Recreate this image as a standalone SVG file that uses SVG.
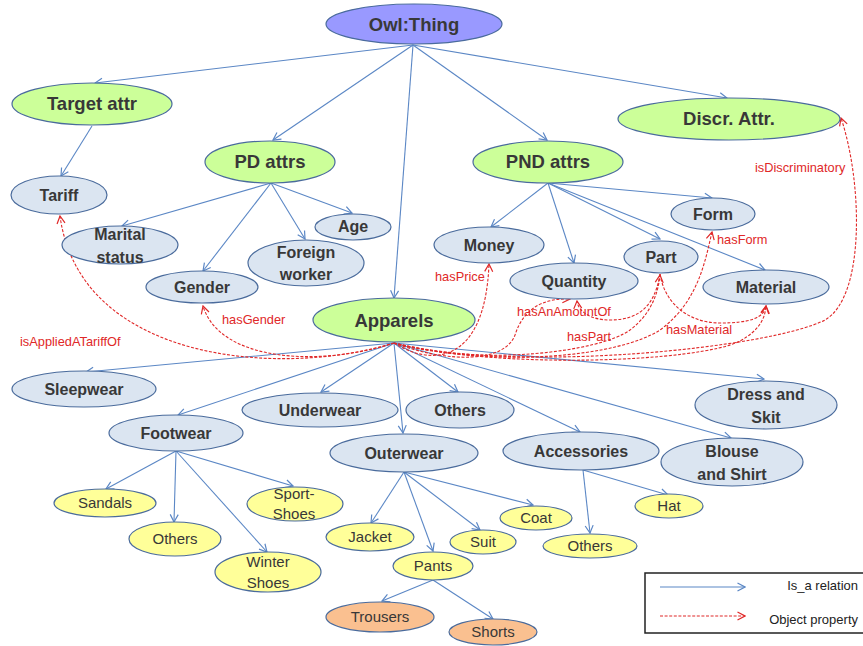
<svg xmlns="http://www.w3.org/2000/svg" width="863" height="646" viewBox="0 0 863 646">
<style>
  .isa { fill: none; stroke: #5b87c5; stroke-width: 1.1; marker-end: url(#ab); }
  .op { fill: none; stroke: #e02828; stroke-width: 1.1; stroke-dasharray: 3 1.6; marker-end: url(#ar); }
  .n ellipse { stroke: #4a6b9c; stroke-width: 1.2; }
  .root ellipse { fill: #9999ff; }
  .grn ellipse { fill: #ccff99; }
  .blu ellipse { fill: #dbe5f1; }
  .yel ellipse { fill: #ffff99; }
  .org ellipse { fill: #fac090; }
  .n text { font-family: "Liberation Sans", Arial, sans-serif; fill: #383838; text-anchor: middle; }
  .root text, .grn text { font-size: 18.5px; font-weight: bold; }
  .blu text { font-size: 16px; font-weight: bold; }
  .yel text, .org text { font-size: 15px; }
  .lbl { font-family: "Liberation Sans", Arial, sans-serif; font-size: 12.8px; fill: #e02828; }
  .leg { font-family: "Liberation Sans", Arial, sans-serif; font-size: 13px; fill: #222; text-anchor: end; }
</style>
<defs>
  <marker id="ab" viewBox="0 0 10 10" refX="9" refY="5" markerWidth="10" markerHeight="10" markerUnits="userSpaceOnUse" orient="auto">
    <path d="M1.5,1 L9,5 L1.5,9" fill="none" stroke="#5b87c5" stroke-width="1.2"/>
  </marker>
  <marker id="ar" viewBox="0 0 10 10" refX="9" refY="5" markerWidth="10" markerHeight="10" markerUnits="userSpaceOnUse" orient="auto">
    <path d="M1.5,1 L9,5 L1.5,9" fill="none" stroke="#e02828" stroke-width="1.2"/>
  </marker>
</defs>

<g id="connectors">
  <g id="isa-edges">
    <line class="isa" x1="413" y1="45" x2="95" y2="83"/>
    <line class="isa" x1="413" y1="45" x2="273" y2="140"/>
    <line class="isa" x1="413" y1="45" x2="394" y2="298"/>
    <line class="isa" x1="413" y1="45" x2="547" y2="140"/>
    <line class="isa" x1="413" y1="45" x2="727" y2="98"/>
    <line class="isa" x1="92" y1="126" x2="61" y2="176"/>
    <line class="isa" x1="271" y1="183" x2="122" y2="226"/>
    <line class="isa" x1="271" y1="183" x2="203" y2="271"/>
    <line class="isa" x1="271" y1="183" x2="305" y2="239"/>
    <line class="isa" x1="271" y1="183" x2="352" y2="213"/>
    <line class="isa" x1="548" y1="183" x2="491" y2="227"/>
    <line class="isa" x1="548" y1="183" x2="574" y2="263"/>
    <line class="isa" x1="548" y1="183" x2="660" y2="239"/>
    <line class="isa" x1="548" y1="183" x2="765" y2="270"/>
    <line class="isa" x1="548" y1="183" x2="712" y2="198"/>
    <line class="isa" x1="394" y1="343" x2="86" y2="372"/>
    <line class="isa" x1="394" y1="343" x2="178" y2="415"/>
    <line class="isa" x1="394" y1="343" x2="321" y2="392"/>
    <line class="isa" x1="394" y1="343" x2="403" y2="433"/>
    <line class="isa" x1="394" y1="343" x2="458" y2="392"/>
    <line class="isa" x1="394" y1="343" x2="580" y2="432"/>
    <line class="isa" x1="394" y1="343" x2="731" y2="438"/>
    <line class="isa" x1="394" y1="343" x2="764" y2="379"/>
    <line class="isa" x1="176" y1="451" x2="106" y2="489"/>
    <line class="isa" x1="176" y1="451" x2="174" y2="522"/>
    <line class="isa" x1="176" y1="451" x2="267" y2="552"/>
    <line class="isa" x1="176" y1="451" x2="293" y2="486"/>
    <line class="isa" x1="404" y1="472" x2="371" y2="523"/>
    <line class="isa" x1="404" y1="472" x2="433" y2="551"/>
    <line class="isa" x1="404" y1="472" x2="480" y2="530"/>
    <line class="isa" x1="404" y1="472" x2="533" y2="505"/>
    <line class="isa" x1="583" y1="470" x2="668" y2="495"/>
    <line class="isa" x1="583" y1="470" x2="590" y2="533"/>
    <line class="isa" x1="433" y1="580" x2="382" y2="601"/>
    <line class="isa" x1="433" y1="580" x2="493" y2="619"/>
  </g>
  <g id="property-edges">
    <path class="op" d="M394,343 C280,378 80,362 60,216"/>
    <path class="op" d="M394,343 C320,367 220,362 203,306"/>
    <path class="op" d="M394,343 C430,366 485,366 489,264"/>
    <path class="op" d="M394,343 C450,364 505,362 515,335 C524,307 545,298 570,299"/>
    <path class="op" d="M394,343 C480,367 600,352 630,330 C650,315 658,295 660,275"/>
    <path class="op" d="M394,343 C500,369 620,356 660,330 C698,302 705,262 712,232"/>
    <path class="op" d="M394,343 C500,370 700,362 740,341 C760,330 765,318 766,306"/>
    <path class="op" d="M394,343 C520,374 770,348 825,320 C866,296 862,180 841,118"/>
    <path class="op" d="M660,274 C655,305 640,320 610,320 C590,320 578,311 577,301"/>
    <path class="op" d="M660,274 C665,305 690,323 720,323 C750,323 764,318 766,306"/>
  </g>
  <g id="property-labels">
    <text class="lbl" x="20" y="346">isAppliedATariffOf</text>
    <text class="lbl" x="222" y="324">hasGender</text>
    <text class="lbl" x="435" y="281">hasPrice</text>
    <text class="lbl" x="517" y="316">hasAnAmountOf</text>
    <text class="lbl" x="567" y="341">hasPart</text>
    <text class="lbl" x="717" y="244">hasForm</text>
    <text class="lbl" x="666" y="334">hasMaterial</text>
    <text class="lbl" x="755" y="172">isDiscriminatory</text>
  </g>
</g>

<g id="owl-thing" class="n root"><ellipse cx="414" cy="24" rx="88" ry="20"/><text x="414" y="31">Owl:Thing</text></g>
<g id="target-attr" class="n grn"><ellipse cx="92" cy="104" rx="80" ry="21"/><text x="92" y="110">Target attr</text></g>
<g id="pd-attrs" class="n grn"><ellipse cx="270" cy="162" rx="65" ry="21"/><text x="270" y="168">PD attrs</text></g>
<g id="pnd-attrs" class="n grn"><ellipse cx="548" cy="162" rx="75" ry="21"/><text x="548" y="168">PND attrs</text></g>
<g id="discr-attr" class="n grn"><ellipse cx="729" cy="119" rx="111" ry="21"/><text x="729" y="125">Discr. Attr.</text></g>
<g id="apparels" class="n grn"><ellipse cx="394" cy="320" rx="81" ry="22"/><text x="394" y="327">Apparels</text></g>

<g id="tariff" class="n blu"><ellipse cx="59" cy="195" rx="48" ry="19"/><text x="59" y="201">Tariff</text></g>
<g id="marital-status" class="n blu"><ellipse cx="120" cy="245" rx="58" ry="19"/><text x="120" y="240">Marital</text><text x="120" y="263">status</text></g>
<g id="age" class="n blu"><ellipse cx="353" cy="227" rx="38" ry="13"/><text x="353" y="232">Age</text></g>
<g id="foreign-worker" class="n blu"><ellipse cx="306" cy="263" rx="58" ry="23"/><text x="306" y="258">Foreign</text><text x="306" y="280">worker</text></g>
<g id="gender" class="n blu"><ellipse cx="202" cy="287" rx="56" ry="16"/><text x="202" y="293">Gender</text></g>
<g id="form" class="n blu"><ellipse cx="713" cy="214" rx="42" ry="16"/><text x="713" y="220">Form</text></g>
<g id="money" class="n blu"><ellipse cx="489" cy="245" rx="55" ry="18"/><text x="489" y="251">Money</text></g>
<g id="quantity" class="n blu"><ellipse cx="574" cy="281" rx="64" ry="18"/><text x="574" y="287">Quantity</text></g>
<g id="part" class="n blu"><ellipse cx="661" cy="257" rx="37" ry="16"/><text x="661" y="263">Part</text></g>
<g id="material" class="n blu"><ellipse cx="766" cy="287" rx="63" ry="17"/><text x="766" y="293">Material</text></g>

<g id="sleepwear" class="n blu"><ellipse cx="84" cy="389" rx="72" ry="18"/><text x="84" y="395">Sleepwear</text></g>
<g id="underwear" class="n blu"><ellipse cx="320" cy="410" rx="78" ry="17"/><text x="320" y="416">Underwear</text></g>
<g id="others-apparels" class="n blu"><ellipse cx="460" cy="410" rx="54" ry="18"/><text x="460" y="416">Others</text></g>
<g id="dress-and-skit" class="n blu"><ellipse cx="766" cy="405" rx="71" ry="24"/><text x="766" y="400">Dress and</text><text x="766" y="423">Skit</text></g>
<g id="footwear" class="n blu"><ellipse cx="176" cy="433" rx="67" ry="18"/><text x="176" y="439">Footwear</text></g>
<g id="outerwear" class="n blu"><ellipse cx="404" cy="453" rx="74" ry="19"/><text x="404" y="459">Outerwear</text></g>
<g id="accessories" class="n blu"><ellipse cx="581" cy="451" rx="78" ry="19"/><text x="581" y="457">Accessories</text></g>
<g id="blouse-and-shirt" class="n blu"><ellipse cx="732" cy="462" rx="71" ry="24"/><text x="732" y="457">Blouse</text><text x="732" y="480">and Shirt</text></g>

<g id="sandals" class="n yel"><ellipse cx="105" cy="503" rx="51" ry="14"/><text x="105" y="508">Sandals</text></g>
<g id="others-footwear" class="n yel"><ellipse cx="175" cy="539" rx="46" ry="17"/><text x="175" y="544">Others</text></g>
<g id="winter-shoes" class="n yel"><ellipse cx="268" cy="572" rx="53" ry="20"/><text x="268" y="567">Winter</text><text x="268" y="588">Shoes</text></g>
<g id="sport-shoes" class="n yel"><ellipse cx="295" cy="504" rx="48" ry="17"/><text x="294" y="499">Sport-</text><text x="294" y="519">Shoes</text></g>
<g id="jacket" class="n yel"><ellipse cx="370" cy="537" rx="44" ry="14"/><text x="370" y="542">Jacket</text></g>
<g id="pants" class="n yel"><ellipse cx="433" cy="566" rx="40" ry="14"/><text x="433" y="571">Pants</text></g>
<g id="suit" class="n yel"><ellipse cx="483" cy="542" rx="33" ry="12"/><text x="483" y="547">Suit</text></g>
<g id="coat" class="n yel"><ellipse cx="536" cy="518" rx="36" ry="12"/><text x="536" y="523">Coat</text></g>
<g id="hat" class="n yel"><ellipse cx="669" cy="506" rx="34" ry="12"/><text x="669" y="511">Hat</text></g>
<g id="others-accessories" class="n yel"><ellipse cx="590" cy="546" rx="47" ry="12"/><text x="590" y="551">Others</text></g>
<g id="trousers" class="n org"><ellipse cx="380" cy="617" rx="54" ry="15"/><text x="380" y="622">Trousers</text></g>
<g id="shorts" class="n org"><ellipse cx="493" cy="632" rx="44" ry="13"/><text x="493" y="637">Shorts</text></g>

<g id="legend">
  <rect x="645" y="573" width="230" height="60" fill="none" stroke="#222" stroke-width="1.5"/>
  <line class="isa" x1="660" y1="587" x2="745" y2="587"/>
  <line class="op" x1="660" y1="616" x2="745" y2="616"/>
  <text class="leg" x="858" y="590">Is_a relation</text>
  <text class="leg" x="858" y="624">Object property</text>
</g>
</svg>
